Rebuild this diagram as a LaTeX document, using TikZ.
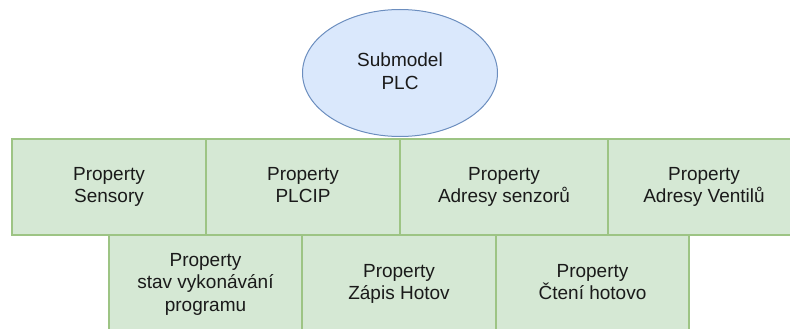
\documentclass[tikz,border=0pt]{standalone}
\usepackage{fontspec}
\setmainfont{Liberation Sans}
\usetikzlibrary{shapes.geometric}
\definecolor{boxfill}{HTML}{D5E8D4}
\definecolor{boxline}{HTML}{9DC484}
\definecolor{ellfill}{HTML}{DAE8FC}
\definecolor{ellline}{HTML}{6C8EBF}
\definecolor{txt}{HTML}{1A1A1A}
\tikzset{
  prop/.style={draw=boxline, fill=boxfill, line width=1.6pt, rectangle, inner sep=0pt,
    align=center, text=txt, font=\fontsize{19}{22.5}\selectfont},
  submodel/.style={draw=ellline, fill=ellfill, line width=1pt, ellipse, inner sep=0pt,
    align=center, text=txt, font=\fontsize{19}{22.5}\selectfont}
}
\begin{document}
\begin{tikzpicture}[x=1pt,y=-1pt]
\useasboundingbox (0,0) rectangle (790,329);
\clip (0,0) rectangle (790,329);
\node[submodel, minimum width=195pt, minimum height=127pt] (sm) at (400,73) {Submodel\\PLC\vphantom{y}};
% top row
\node[prop, minimum width=194pt, minimum height=96pt] (p1) at (109,187) {Property\\Sensory};
\node[prop, minimum width=194pt, minimum height=96pt] (p2) at (303,187) {Property\\PLCIP\vphantom{y}};
\node[prop, minimum width=208pt, minimum height=96pt] (p3) at (504,187) {Property\\Adresy senzorů};
\node[prop, minimum width=192pt, minimum height=96pt] (p4) at (704,187) {Property\\Adresy Ventilů};
% bottom row
\node[prop, minimum width=193pt, minimum height=98pt] (p5) at (205.5,284) {Property\\stav vykonávání\\programu};
\node[prop, minimum width=194pt, minimum height=98pt] (p6) at (399,284) {Property\\Zápis Hotov};
\node[prop, minimum width=193pt, minimum height=98pt] (p7) at (592.5,284) {Property\\Čtení hotovo\vphantom{y}};
\end{tikzpicture}
\end{document}
